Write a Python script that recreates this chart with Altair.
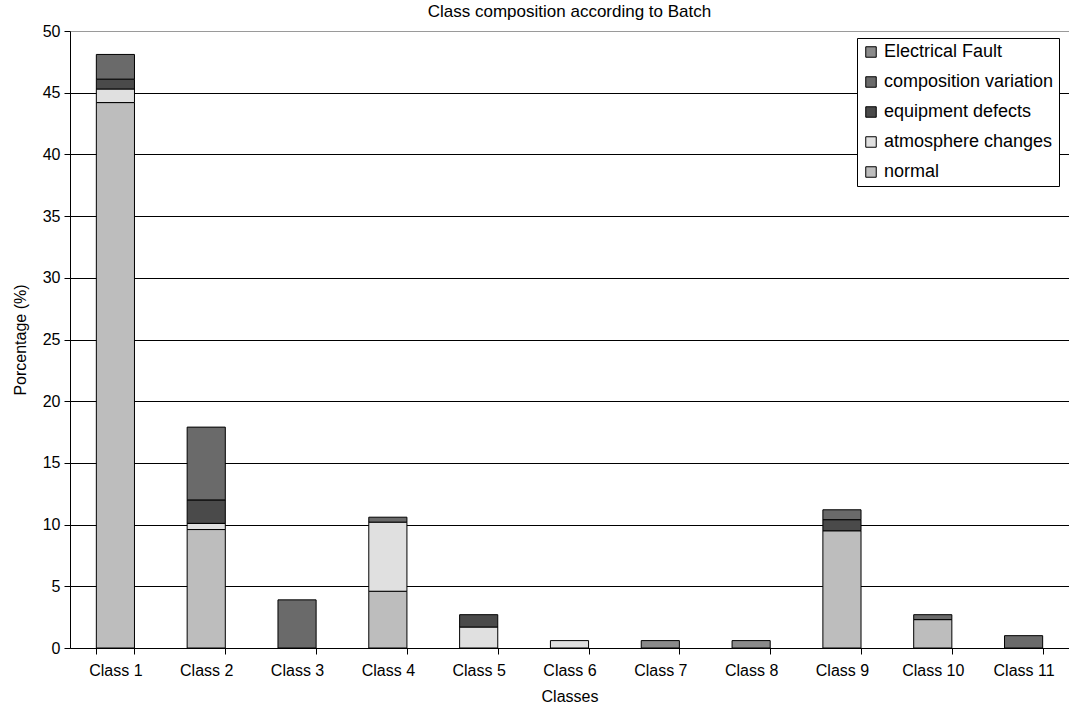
import altair as alt
import pandas as pd

classes = ["Class 1", "Class 2", "Class 3", "Class 4", "Class 5", "Class 6",
           "Class 7", "Class 8", "Class 9", "Class 10", "Class 11"]
series = ["normal", "atmosphere changes", "equipment defects",
          "composition variation", "Electrical Fault"]
normal = [44.2, 9.6, 0, 4.6, 0, 0, 0, 0, 9.5, 2.3, 0]
atmosphere = [1.1, 0.5, 0, 5.6, 1.7, 0.6, 0, 0, 0, 0, 0]
equipment = [0.8, 1.9, 0, 0, 1.0, 0, 0, 0, 0.9, 0, 0]
composition = [2.0, 5.9, 3.9, 0.4, 0, 0, 0, 0, 0.8, 0.4, 1.0]
electrical = [0, 0, 0, 0, 0, 0, 0.6, 0.6, 0, 0, 0]
legend_order = ["Electrical Fault", "composition variation", "equipment defects",
                "atmosphere changes", "normal"]
greys = ["#8a8a8a", "#6a6a6a", "#4a4a4a", "#e0e0e0", "#bdbdbd"]

rows = []
for si, (name, vals) in enumerate(zip(series, [normal, atmosphere, equipment, composition, electrical])):
    for c, v in zip(classes, vals):
        if v > 0:
            rows.append({"Class": c, "Series": name, "Value": v, "Order": si})
df = pd.DataFrame(rows)

FONT = "Liberation Sans"

chart = alt.Chart(df).mark_bar(stroke="black", strokeWidth=1).encode(
    x=alt.X("Class:N", sort=classes,
            scale=alt.Scale(paddingInner=0.58, paddingOuter=0.29),
            axis=alt.Axis(title="Classes", labelAngle=0, tickBand="extent",
                          domainColor="black", tickColor="black", tickSize=6,
                          labelFontSize=16, titleFontSize=16, labelPadding=8,
                          titlePadding=10, labelColor="black", titleColor="black",
                          titleFontWeight="normal", labelFont=FONT, titleFont=FONT)),
    y=alt.Y("Value:Q", stack="zero",
            scale=alt.Scale(domain=[0, 50], nice=False),
            axis=alt.Axis(title="Porcentage (%)", values=list(range(0, 55, 5)),
                          grid=True,
                          gridColor={"condition": {"test": "datum.value == 50", "value": "#9a9a9a"},
                                     "value": "black"},
                          gridWidth=1,
                          domainColor="black", tickColor="black", tickSize=6,
                          labelFontSize=16, titleFontSize=16, labelPadding=4,
                          titlePadding=14, labelColor="black", titleColor="black",
                          titleFontWeight="normal", labelFont=FONT, titleFont=FONT)),
    color=alt.Color("Series:N",
                    scale=alt.Scale(domain=legend_order, range=greys),
                    legend=alt.Legend(title=None, orient="none", legendX=787, legendY=7,
                                      fillColor="white", strokeColor="black",
                                      padding=5, symbolType="square", symbolSize=110,
                                      symbolStrokeColor="black", symbolStrokeWidth=1,
                                      labelFontSize=18, labelFont=FONT, labelColor="black",
                                      labelLimit=400, rowPadding=12, labelOffset=4)),
    order=alt.Order("Order:Q", sort="ascending"),
).properties(
    width=999, height=617,
    title=alt.TitleParams("Class composition according to Batch", fontSize=17,
                          font=FONT, fontWeight="normal", color="black",
                          anchor="middle", offset=2),
    padding={"left": 70, "top": 31, "right": 0, "bottom": 72},
    autosize=alt.AutoSizeParams(type="none"),
).configure_view(stroke=None).configure_axis(domainWidth=1, tickWidth=1)

chart.save("out.html", embed_options={"renderer": "svg", "actions": False})
